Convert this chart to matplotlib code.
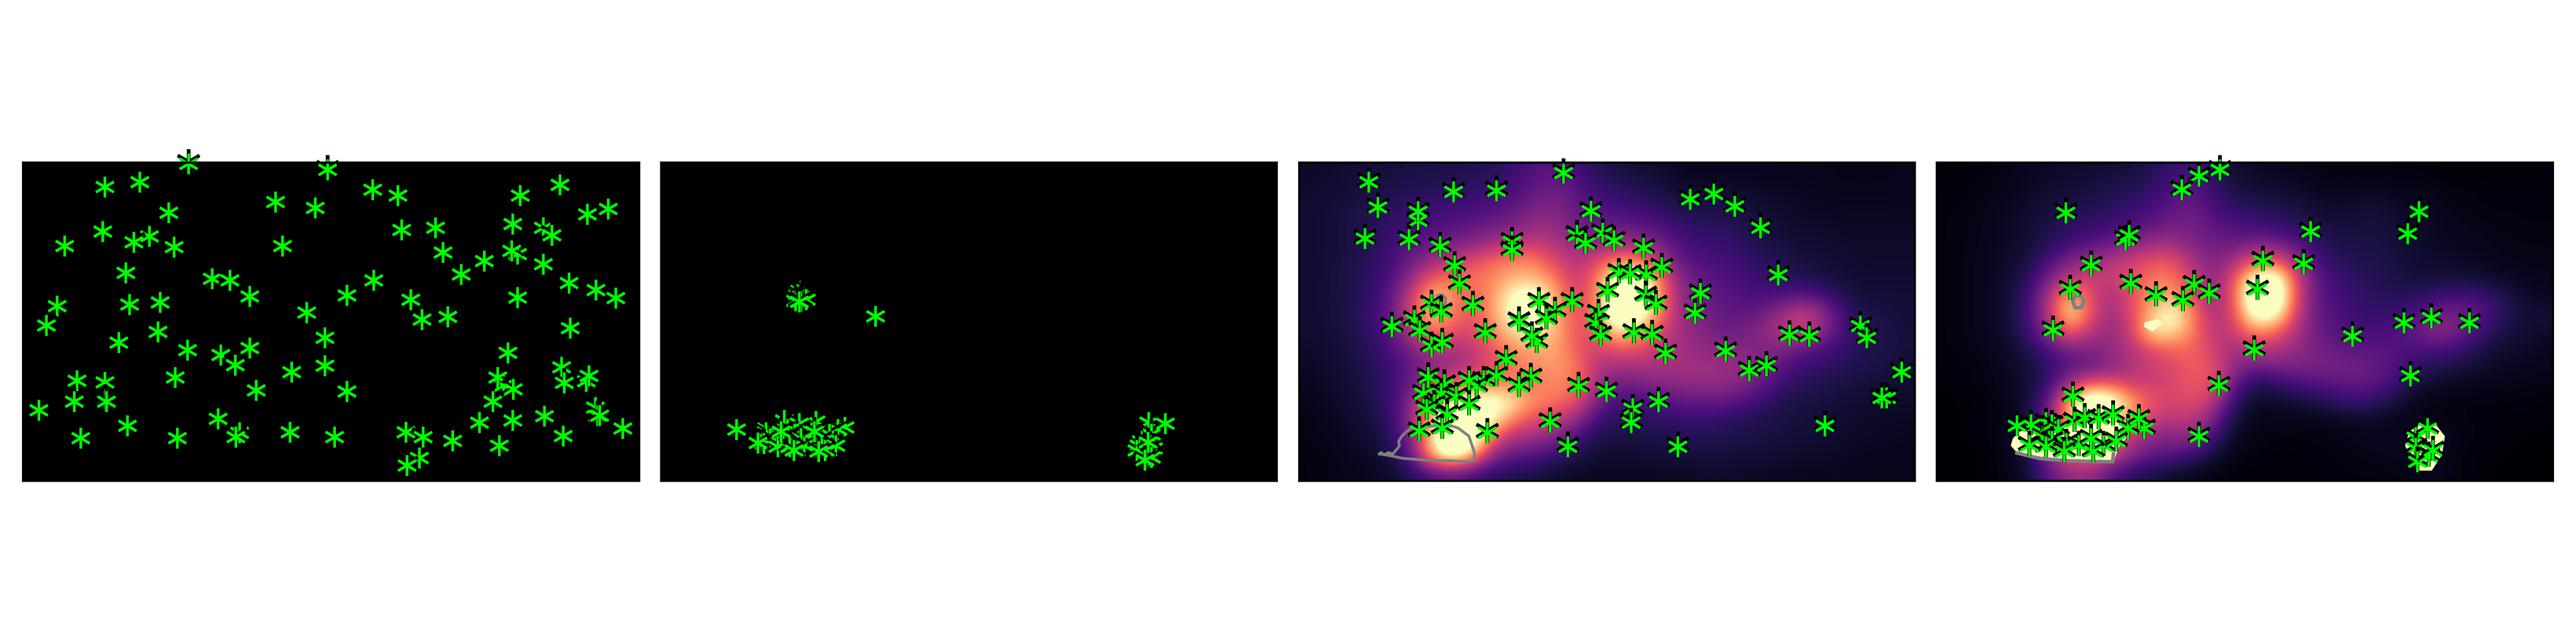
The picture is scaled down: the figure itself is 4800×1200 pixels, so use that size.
import matplotlib

matplotlib.use("Agg")
import matplotlib.pyplot as plt
import matplotlib.transforms as mtransforms
import numpy as np

# star positions (each panel in its own pixel-read units)
stars_a = [(447,127),(777,152),(249,226),(331,205),(654,291),(748,316),(885,238),(945,263),(1235,263),(1330,217),
           (1395,344),(1444,321),(400,336),(243,417),(354,438),(318,463),(153,479),(413,484),(671,479),(954,410),
           (1034,401),(1217,385),(1290,401),(1310,433),(1051,507),(1150,544),(1229,515),(1215,501),(1290,558),(298,595),
           (503,622),(546,627),(593,697),(887,627),(1095,602),(1351,639),(1415,669),(1462,705),(1229,701),(135,738),
           (307,733),(380,722),(823,692),(975,712),(728,766),(1002,796),(1063,786),(110,823),(375,849),(282,897),
           (771,876),(1354,833),(445,929),(524,950),(593,918),(558,992),(1206,939),(1333,1003),(692,1024),(771,996),
           (416,1045),(182,1061),(249,1066),(1195,1080),(1181,1045),(1392,1062),(1398,1040),(1340,1070),(1218,1097),(608,1102),
           (823,1100),(823,1107),(250,1140),(176,1150),(252,1150),(1170,1150),(92,1188),(1413,1176),(1418,1210),(1424,1210),
           (518,1225),(1217,1230),(1292,1213),(1138,1241),(302,1255),(568,1283),(560,1303),(689,1282),(964,1282),(1004,1303),
           (794,1303),(191,1307),(421,1307),(1075,1319),(1337,1298),(1478,1266),(1185,1340),(996,1393),(966,1425)]
stars_b = [(368,675),(365,690),(372,700),(360,715),(385,710),(372,718),(368,720),(549,782),(220,1271),(290,1265),
           (333,1230),(408,1235),(368,1245),(477,1260),(460,1270),(340,1270),(290,1285),(440,1290),(390,1300),(350,1300),
           (300,1310),(372,1310),(420,1320),(285,1330),(330,1330),(380,1340),(318,1345),(345,1345),(455,1340),(356,1360),
           (430,1360),(325,1280),(404,1280),(270,1328),(415,1365),(1199,1240),(1205,1290),(1180,1320),(1175,1340),(1170,1360),
           (1210,1350),(1200,1380),(1205,1390),(1197,1325),(1190,1402),(1238,1245)]
stars_c = [(195,205),(402,247),(506,241),(218,314),(316,372),(316,332),(186,447),(294,453),(369,483),(736,331),
           (670,167),(978,279),(1036,257),(1087,310),(1149,401),(703,433),(766,425),(793,458),(724,469),(545,462),
           (545,498),(865,490),(405,565),(805,595),(871,605),(832,601),(909,572),(1193,606),(416,645),(1003,684),
           (777,677),(870,694),(895,732),(691,721),(610,720),(649,762),(348,733),(372,765),(449,737),(755,772),
           (990,770),(562,805),(628,795),(748,812),(307,800),(252,827),(320,845),(479,855),(760,865),(841,854),
           (886,862),(605,897),(593,868),(349,913),(375,896),(1220,864),(1268,869),(1393,825),(1409,875),(918,942),
           (1065,933),(530,970),(1122,1016),(1164,995),(1493,1024),(475,1060),(507,1040),(590,1046),(562,1085),(458,1085),
           (440,1060),(329,1115),(341,1045),(380,1075),(372,1115),(408,1130),(355,1165),(440,1165),(707,1086),(775,1107),
           (1457,1133),(1445,1133),(901,1150),(838,1180),(835,1240),(337,1185),(386,1205),(637,1238),(318,1277),(375,1265),
           (485,1285),(680,1343),(949,1343),(1307,1253)]
stars_d = [(713,152),(662,180),(621,237),(338,336),(1198,332),(934,417),(1171,426),(484,453),(493,433),(400,564),
           (818,544),(917,557),(497,642),(651,646),(349,668),(805,668),(687,684),(558,695),(624,716),(1228,790),
           (1162,811),(1321,811),(307,843),(1036,869),(797,929),(1177,1039),(711,1081),(355,1127),(290,1240),(360,1235),
           (305,1250),(320,1270),(384,1220),(418,1224),(530,1265),(490,1265),(453,1208),(280,1300),(340,1330),(305,1320),
           (430,1340),(370,1340),(290,1345),(335,1365),(405,1365),(400,1310),(462,1322),(516,1225),(254,1250),(220,1255),
           (250,1340),(662,1300),(1190,1305),(1190,1350),(1195,1408),(1222,1385),(1232,1360),(1219,1265)]

# heat grids (0 = black, 1 = pale yellow, above 1 saturates)
heat_c = [
    [.07,.08,.1,.1,.11,.12,.13,.13,.14,.15,.2,.25,.28,.22,.15,.12,.1,.09,.06,.05,.05,.05,.05,.05,.05,.05,.04,.04,.04,.05],
    [.08,.09,.1,.12,.13,.14,.15,.16,.18,.2,.23,.3,.33,.27,.2,.17,.14,.12,.09,.09,.09,.08,.07,.07,.06,.06,.05,.05,.05,.06],
    [.09,.1,.12,.14,.16,.18,.2,.21,.22,.25,.28,.35,.37,.3,.25,.22,.2,.17,.13,.12,.13,.11,.09,.08,.07,.06,.06,.06,.06,.06],
    [.09,.1,.12,.15,.18,.21,.24,.26,.28,.32,.36,.42,.42,.33,.3,.3,.27,.24,.19,.16,.16,.14,.11,.09,.08,.08,.07,.07,.07,.07],
    [.09,.1,.12,.15,.2,.25,.3,.33,.38,.44,.5,.52,.48,.4,.38,.42,.42,.34,.24,.2,.19,.17,.13,.11,.09,.09,.08,.08,.08,.08],
    [.09,.1,.13,.16,.22,.32,.42,.5,.6,.68,.75,.72,.58,.48,.58,.72,.72,.5,.3,.24,.22,.2,.16,.14,.11,.1,.09,.08,.08,.08],
    [.09,.11,.13,.17,.24,.42,.65,.72,.7,.75,.85,.85,.72,.52,.7,1.1,1.2,.75,.38,.3,.26,.22,.19,.17,.14,.12,.1,.09,.09,.09],
    [.09,.11,.13,.18,.28,.55,.88,.75,.65,.8,1.05,1.1,.82,.55,.72,1.3,1.3,.82,.42,.32,.28,.25,.22,.24,.27,.22,.14,.1,.1,.1],
    [.09,.11,.14,.19,.3,.6,.92,.72,.62,.8,1.1,1.2,.85,.6,.72,1.3,1.2,.75,.45,.35,.3,.28,.32,.42,.55,.42,.2,.13,.12,.1],
    [.09,.1,.13,.18,.28,.5,.75,.62,.6,.75,.95,1.0,.85,.62,.65,.95,.85,.62,.45,.38,.33,.32,.38,.5,.55,.42,.22,.15,.13,.11],
    [.08,.09,.12,.16,.24,.36,.48,.48,.52,.65,.78,.82,.82,.65,.55,.65,.62,.52,.45,.42,.38,.38,.38,.36,.3,.24,.19,.15,.13,.11],
    [.07,.09,.11,.15,.2,.3,.38,.42,.52,.62,.72,.75,.8,.72,.5,.45,.47,.47,.46,.45,.44,.42,.38,.28,.2,.18,.15,.13,.12,.1],
    [.06,.08,.1,.14,.2,.3,.55,.68,.72,.72,.72,.72,.75,.72,.45,.32,.35,.38,.4,.42,.42,.38,.3,.2,.16,.14,.12,.11,.1,.09],
    [.05,.07,.09,.13,.2,.38,.8,.95,1.05,1.1,.95,.75,.72,.62,.35,.22,.22,.25,.28,.3,.3,.26,.2,.14,.12,.11,.1,.09,.08,.08],
    [.04,.06,.08,.11,.18,.42,.9,1.2,1.2,1.0,.72,.6,.55,.42,.22,.16,.16,.18,.19,.2,.18,.15,.13,.12,.11,.1,.09,.08,.07,.07],
    [.04,.05,.07,.1,.16,.35,.95,1.4,1.2,.65,.48,.45,.38,.24,.13,.12,.12,.13,.14,.15,.14,.13,.12,.11,.1,.09,.08,.07,.07,.06],
    [.03,.04,.06,.08,.12,.3,.9,1.2,.85,.38,.3,.26,.2,.13,.09,.09,.09,.1,.1,.11,.11,.1,.1,.09,.08,.08,.07,.06,.06,.05],
    [.03,.04,.05,.06,.08,.14,.25,.28,.22,.16,.14,.12,.09,.07,.07,.06,.07,.07,.07,.08,.08,.08,.07,.07,.06,.06,.06,.05,.05,.05],
]
heat_d = [
    [.02,.02,.03,.04,.06,.07,.08,.09,.1,.11,.14,.2,.22,.16,.09,.07,.06,.05,.04,.03,.03,.03,.03,.03,.02,.02,.02,.02,.02,.02],
    [.02,.03,.04,.05,.07,.09,.1,.11,.13,.15,.18,.24,.27,.19,.12,.1,.09,.08,.06,.05,.06,.06,.04,.05,.04,.03,.03,.02,.02,.02],
    [.03,.03,.05,.06,.08,.11,.13,.14,.16,.19,.22,.28,.32,.22,.17,.15,.13,.12,.09,.08,.09,.1,.07,.07,.05,.04,.03,.03,.03,.03],
    [.03,.04,.05,.07,.09,.13,.16,.18,.2,.24,.28,.33,.34,.27,.24,.22,.19,.16,.12,.1,.11,.12,.09,.08,.06,.05,.04,.04,.03,.03],
    [.03,.04,.05,.07,.1,.15,.21,.25,.3,.37,.42,.43,.36,.32,.3,.33,.32,.26,.17,.13,.12,.12,.1,.08,.07,.06,.05,.04,.04,.04],
    [.03,.04,.06,.08,.12,.22,.35,.42,.48,.55,.62,.62,.45,.35,.45,.62,.62,.42,.22,.16,.14,.13,.11,.09,.08,.07,.06,.05,.04,.04],
    [.03,.04,.06,.09,.16,.35,.52,.55,.55,.62,.72,.72,.55,.38,.62,1.05,1.15,.58,.28,.2,.17,.14,.12,.1,.1,.1,.09,.07,.06,.05],
    [.03,.04,.06,.1,.2,.48,.85,.6,.45,.62,.8,.8,.6,.4,.65,1.3,1.3,.6,.3,.22,.18,.16,.15,.16,.2,.22,.2,.14,.08,.06],
    [.03,.04,.06,.1,.22,.52,1.0,.62,.42,.6,.85,1.1,.72,.45,.6,1.15,1.1,.55,.3,.24,.2,.18,.2,.25,.33,.33,.27,.18,.1,.1],
    [.03,.04,.06,.1,.2,.42,.72,.5,.42,.55,1.0,.95,.72,.5,.55,.78,.7,.48,.32,.26,.22,.22,.25,.32,.42,.33,.22,.12,.1,.08],
    [.03,.04,.05,.08,.14,.26,.36,.36,.42,.5,.62,.68,.68,.55,.45,.5,.5,.42,.34,.3,.27,.27,.25,.24,.24,.2,.12,.09,.08,.06],
    [.02,.03,.04,.07,.1,.18,.26,.3,.38,.47,.55,.6,.66,.62,.4,.33,.36,.36,.36,.35,.33,.3,.24,.18,.14,.12,.09,.07,.06,.05],
    [.02,.03,.04,.06,.1,.2,.45,.65,.62,.55,.55,.58,.65,.62,.3,.14,.17,.22,.25,.28,.3,.27,.18,.1,.07,.06,.05,.05,.04,.04],
    [.01,.02,.03,.05,.1,.3,.85,1.3,1.15,.8,.62,.58,.62,.5,.18,.07,.08,.1,.13,.17,.2,.17,.1,.05,.04,.03,.03,.03,.03,.02],
    [.01,.02,.03,.04,.12,.35,.9,1.1,1.0,.75,.55,.5,.52,.35,.1,.05,.05,.05,.05,.06,.07,.07,.05,.04,.04,.03,.03,.02,.02,.02],
    [.01,.02,.03,.06,.14,.4,.65,.75,.7,.5,.38,.38,.42,.2,.07,.04,.03,.03,.03,.04,.05,.06,.05,.06,.06,.04,.03,.02,.02,.01],
    [.01,.01,.02,.05,.12,.42,.65,.7,.6,.4,.3,.27,.2,.1,.04,.03,.02,.02,.03,.03,.04,.05,.05,.06,.06,.03,.02,.02,.01,.01],
    [.01,.01,.02,.04,.1,.28,.42,.42,.25,.16,.12,.08,.06,.04,.02,.02,.02,.02,.02,.03,.03,.03,.04,.05,.05,.03,.02,.01,.01,.01],
]

# hard-edged pale patches seen in the last panel
patches_d = [[(210,1310),(225,1280),(300,1250),(470,1240),(490,1300),(470,1340),(455,1410),(330,1400),(222,1375),(205,1340)],
             [(1200,1250),(1240,1250),(1262,1300),(1255,1380),(1230,1448),(1200,1448),(1180,1400),(1165,1340),(1175,1280)],
             [(530,810),(565,795),(575,815),(550,850),(530,830)]]

# grey outlines
outline_c = [[(222,1376),(227,1370),(233,1381),(244,1370),(255,1376),(266,1353),(271,1341),(269,1322),(277,1299),(288,1280),
              (301,1264),(316,1261),(344,1257),(370,1254),(401,1257),(414,1265),(440,1299),(446,1330),(453,1368),(455,1403),
              (436,1410),(396,1405),(348,1405),(309,1399),(279,1395),(257,1387),(240,1381),(222,1376)],
             [(362,695),(375,690),(383,705),(383,730),(372,745)]]
outline_d = [[(220,1372),(248,1384),(274,1395),(305,1400),(340,1405),(396,1408),(453,1410),(455,1376)],
             [(362,695),(375,695),(383,715),(378,745),(362,748),(356,720),(362,695)]]

fig = plt.figure(figsize=(16, 4), dpi=300)

panels = [
    ((43, 1148), (55, 1518), stars_a, None, [], None, 1.2),
    ((1232, 1147), (41, 1503), stars_b, None, [], None, 1.2),
    ((2421, 1147), (27, 1526), stars_c, heat_c, [], outline_c, 1.2),
    ((3609, 1148), (25, 1525), stars_d, heat_d, patches_d, outline_d, 1.6),
]

for (left, width), (x0, x1), stars, heat, patches, outline, line_w in panels:
    ax = fig.add_axes([left / 4800, (1200 - 896) / 1200, width / 4800, 593 / 1200])
    ax.set_facecolor("black")
    if heat is not None:
        ax.imshow(np.array(heat), cmap="magma", vmin=0, vmax=1, interpolation="bicubic",
                  extent=(x0, x1, 1492, 122), aspect="auto")
    for patch in patches:
        xs, ys = zip(*patch)
        ax.fill(xs, ys, color="#fcfdbf", lw=0)
    if outline is not None:
        for path in outline:
            xs, ys = zip(*path)
            ax.plot(xs, ys, color="gray", lw=line_w)
    ax.set_xlim(x0, x1)
    ax.set_ylim(1492, 122)
    ax.set_xticks([])
    ax.set_yticks([])
    for sp in ax.spines.values():
        sp.set_linewidth(1.0)
    up = mtransforms.offset_copy(ax.transData, fig, x=0, y=1.0, units="points")
    # each star on its own so later black arms cut across earlier green ones
    for x, y in stars:
        ax.plot([x], [y], marker=(6, 2, 0), ms=11.2, mew=1.5, color="black", transform=up, clip_on=False)
        ax.plot([x], [y], marker=(6, 2, 0), ms=9.2, mew=1.15, color="#00ff00", clip_on=False)

fig.savefig("out.png", dpi=300)
